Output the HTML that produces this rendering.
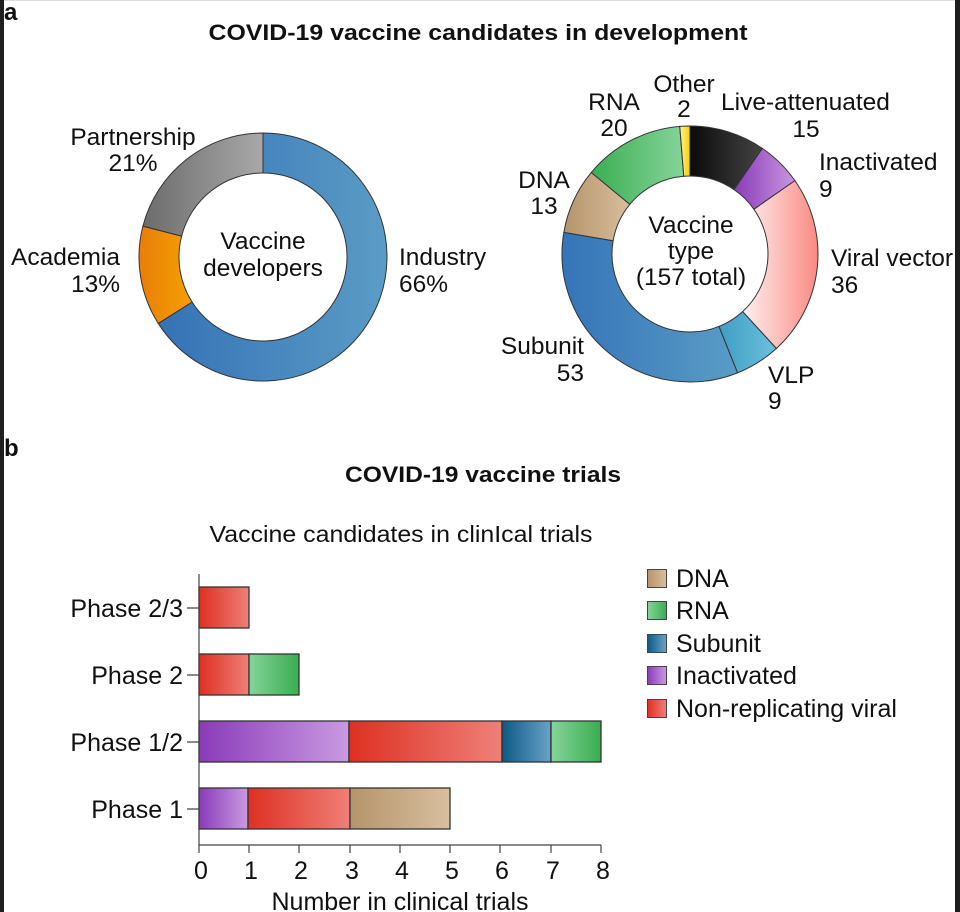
<!DOCTYPE html>
<html><head><meta charset="utf-8"><style>
html,body{margin:0;padding:0;background:#fff;}
body{width:960px;height:912px;overflow:hidden;position:relative;}
svg{position:absolute;left:0;top:0;}
text{font-family:"Liberation Sans",Arial,sans-serif;fill:#111;}
</style></head><body>
<svg id="s" width="960" height="912" viewBox="0 0 960 912" xmlns="http://www.w3.org/2000/svg">
<defs>
<linearGradient id="gInd" x1="0" x2="1"><stop offset="0" stop-color="#3572b6"/><stop offset="1" stop-color="#5a9cc6"/></linearGradient>
<linearGradient id="gAca" x1="0" x2="1"><stop offset="0" stop-color="#e97d0a"/><stop offset="1" stop-color="#f5a100"/></linearGradient>
<linearGradient id="gPar" x1="0" x2="1"><stop offset="0" stop-color="#6c6c6c"/><stop offset="1" stop-color="#a8a8a8"/></linearGradient>
<linearGradient id="gLive" x1="0" x2="1"><stop offset="0" stop-color="#0a0a0a"/><stop offset="1" stop-color="#444"/></linearGradient>
<linearGradient id="gInact" x1="0" x2="1"><stop offset="0" stop-color="#8a3bb8"/><stop offset="1" stop-color="#c996e0"/></linearGradient>
<linearGradient id="gVV" x1="0" x2="1"><stop offset="0" stop-color="#fff0f0"/><stop offset="1" stop-color="#f88a82"/></linearGradient>
<linearGradient id="gVLP" x1="0" x2="1"><stop offset="0" stop-color="#3f9ec4"/><stop offset="1" stop-color="#6cc0dc"/></linearGradient>
<linearGradient id="gSub" x1="0" x2="1"><stop offset="0" stop-color="#3574b8"/><stop offset="1" stop-color="#5a9cc6"/></linearGradient>
<linearGradient id="gDNA" x1="0" x2="1"><stop offset="0" stop-color="#b5946a"/><stop offset="1" stop-color="#d8bf9e"/></linearGradient>
<linearGradient id="gRNA" x1="0" x2="1"><stop offset="0" stop-color="#3aae52"/><stop offset="1" stop-color="#86d49a"/></linearGradient>
<linearGradient id="gOth" x1="0" x2="1"><stop offset="0" stop-color="#fff2a0"/><stop offset="1" stop-color="#f5d000"/></linearGradient>
<linearGradient id="bRed" x1="0" x2="1"><stop offset="0" stop-color="#de3022"/><stop offset="1" stop-color="#ee8078"/></linearGradient>
<linearGradient id="bGrn" x1="0" x2="1"><stop offset="0" stop-color="#86d49a"/><stop offset="1" stop-color="#38ad50"/></linearGradient>
<linearGradient id="bPur" x1="0" x2="1"><stop offset="0" stop-color="#8a3bb8"/><stop offset="1" stop-color="#c99ae2"/></linearGradient>
<linearGradient id="bBlu" x1="0" x2="1"><stop offset="0" stop-color="#0c5a86"/><stop offset="1" stop-color="#6aa2c8"/></linearGradient>
<linearGradient id="bTan" x1="0" x2="1"><stop offset="0" stop-color="#b5946a"/><stop offset="1" stop-color="#d8bf9e"/></linearGradient>
</defs>
<rect x="0" y="0" width="4" height="912" fill="#1e1e1e"/>
<rect x="955" y="0" width="5" height="912" fill="#1e1e1e"/>
<rect x="4" y="0" width="951" height="1" fill="#ddd"/>
<text x="4" y="20" font-size="24" font-weight="bold">a</text>
<text x="4" y="456" font-size="24" font-weight="bold">b</text>
<text x="478" y="40" font-size="22" font-weight="bold" text-anchor="middle" textLength="539" lengthAdjust="spacingAndGlyphs">COVID-19 vaccine candidates in development</text>
<g id="d1"></g><g id="d2"></g>
<g font-size="24.5">
<text x="133" y="145" text-anchor="middle">Partnership</text>
<text x="133" y="171" text-anchor="middle">21%</text>
<text x="120" y="265" text-anchor="end">Academia</text>
<text x="120" y="292" text-anchor="end">13%</text>
<text x="399" y="265">Industry</text>
<text x="399" y="292">66%</text>
<text x="263" y="249" text-anchor="middle">Vaccine</text>
<text x="263" y="276" text-anchor="middle">developers</text>
<text x="691" y="233" text-anchor="middle">Vaccine</text>
<text x="691" y="259" text-anchor="middle">type</text>
<text x="691" y="285" text-anchor="middle">(157 total)</text>
<text x="614" y="110" text-anchor="middle">RNA</text>
<text x="614" y="136" text-anchor="middle">20</text>
<text x="684" y="92" text-anchor="middle">Other</text>
<text x="684" y="117" text-anchor="middle">2</text>
<text x="721" y="110">Live-attenuated</text>
<text x="806" y="137" text-anchor="middle">15</text>
<text x="819" y="170">Inactivated</text>
<text x="819" y="197">9</text>
<text x="544" y="188" text-anchor="middle">DNA</text>
<text x="544" y="214" text-anchor="middle">13</text>
<text x="831" y="266">Viral vector</text>
<text x="831" y="293">36</text>
<text x="584" y="354" text-anchor="end">Subunit</text>
<text x="584" y="381" text-anchor="end">53</text>
<text x="768" y="383">VLP</text>
<text x="768" y="409">9</text>
</g>
<text x="483" y="482" font-size="22" font-weight="bold" text-anchor="middle" textLength="276" lengthAdjust="spacingAndGlyphs">COVID-19 vaccine trials</text>
<text x="401" y="542" font-size="23" text-anchor="middle" textLength="383" lengthAdjust="spacingAndGlyphs">Vaccine candidates in clinIcal trials</text>
<g stroke="#333" stroke-width="1.3">
<rect x="199" y="587" width="50" height="41" fill="url(#bRed)"/>
<rect x="199" y="654" width="50" height="41" fill="url(#bRed)"/>
<rect x="249" y="654" width="50" height="41" fill="url(#bGrn)"/>
<rect x="199" y="721" width="150" height="41" fill="url(#bPur)"/>
<rect x="349" y="721" width="153" height="41" fill="url(#bRed)"/>
<rect x="502" y="721" width="49" height="41" fill="url(#bBlu)"/>
<rect x="551" y="721" width="50" height="41" fill="url(#bGrn)"/>
<rect x="199" y="788" width="49" height="41" fill="url(#bPur)"/>
<rect x="248" y="788" width="102" height="41" fill="url(#bRed)"/>
<rect x="350" y="788" width="100" height="41" fill="url(#bTan)"/>
</g>
<g stroke="#444" stroke-width="1.2" fill="none">
<path d="M199 574 V845 H601"/>
<path d="M187 608 H199 M187 675 H199 M187 742 H199 M187 809 H199"/>
<path d="M199 845 V853 M249 845 V853 M299 845 V853 M350 845 V853 M400 845 V853 M450 845 V853 M500 845 V853 M551 845 V853 M601 845 V853"/>
</g>
<g font-size="25">
<text x="183" y="617" text-anchor="end">Phase 2/3</text>
<text x="183" y="684" text-anchor="end">Phase 2</text>
<text x="183" y="751" text-anchor="end">Phase 1/2</text>
<text x="183" y="818" text-anchor="end">Phase 1</text>
<g text-anchor="middle">
<text x="201" y="879">0</text><text x="251" y="879">1</text><text x="301" y="879">2</text><text x="352" y="879">3</text><text x="402" y="879">4</text><text x="452" y="879">5</text><text x="502" y="879">6</text><text x="553" y="879">7</text><text x="603" y="879">8</text>
</g>
<text x="400" y="910" text-anchor="middle">Number in clinical trials</text>
<text x="676" y="587">DNA</text>
<text x="676" y="619">RNA</text>
<text x="676" y="652">Subunit</text>
<text x="676" y="684">Inactivated</text>
<text x="676" y="717">Non-replicating viral</text>
</g>
<g stroke="#444" stroke-width="1">
<rect x="647.5" y="569.5" width="19" height="18" fill="url(#bTan)"/>
<rect x="647.5" y="601.5" width="19" height="18" fill="url(#bGrn)"/>
<rect x="647.5" y="634.5" width="19" height="18" fill="url(#bBlu)"/>
<rect x="647.5" y="666.5" width="19" height="18" fill="url(#bPur)"/>
<rect x="647.5" y="699.5" width="19" height="18" fill="url(#bRed)"/>
</g>
</svg>
<script>
function donut(g,cx,cy,R,r,segs){
  var tot=segs.reduce(function(a,s){return a+s[0];},0),a=0,h='';
  segs.forEach(function(s){
    var a0=a/tot*2*Math.PI,a1=(a+s[0])/tot*2*Math.PI;a+=s[0];
    var L=(a1-a0)>Math.PI?1:0;
    function p(rr,t){return [cx+rr*Math.sin(t),cy-rr*Math.cos(t)].map(function(v){return v.toFixed(2)}).join(' ');}
    h+='<path d="M'+p(R,a0)+' A'+R+' '+R+' 0 '+L+' 1 '+p(R,a1)+' L'+p(r,a1)+' A'+r+' '+r+' 0 '+L+' 0 '+p(r,a0)+' Z" fill="url(#'+s[1]+')" stroke="#333" stroke-width="1"/>';
  });
  document.getElementById(g).innerHTML=h;
}
donut('d1',263,257,124,84,[[66,'gInd'],[13,'gAca'],[21,'gPar']]);
donut('d2',690,254,128,78,[[15,'gLive'],[9,'gInact'],[36,'gVV'],[9,'gVLP'],[53,'gSub'],[13,'gDNA'],[20,'gRNA'],[2,'gOth']]);
</script>
</body></html>
